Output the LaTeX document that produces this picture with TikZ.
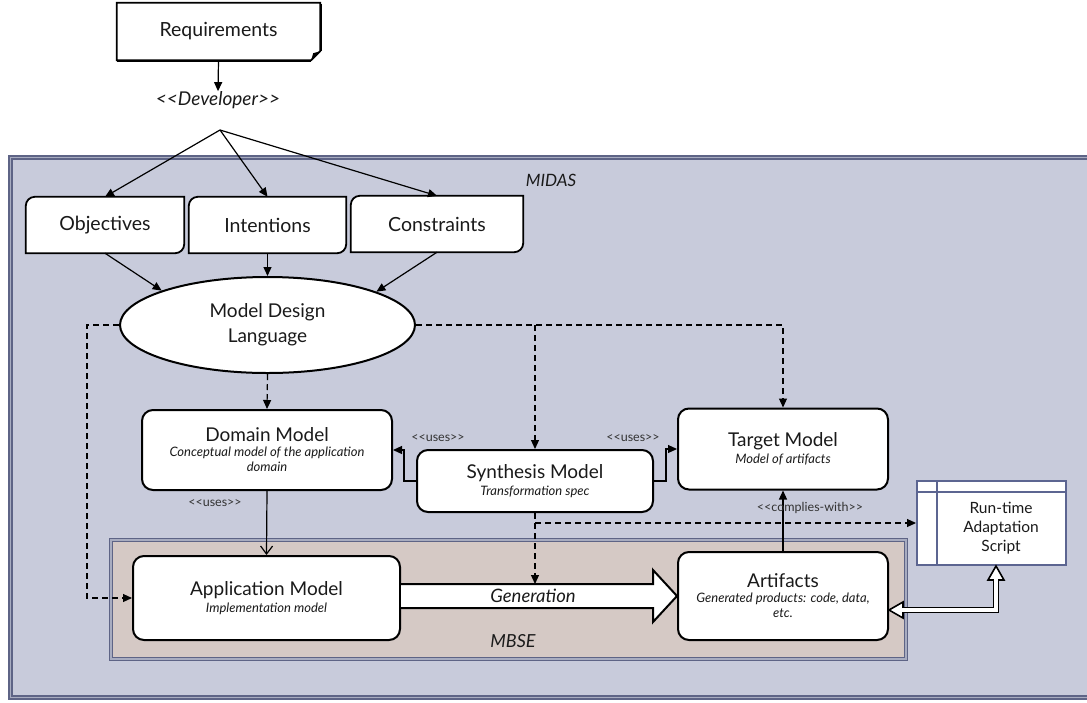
\documentclass[tikz,border=0pt]{standalone}
\usepackage{fontspec}
\setmainfont{Lato}
\usetikzlibrary{arrows.meta,shapes.geometric,calc}
\definecolor{midasfill}{HTML}{C8CBDB}
\definecolor{framedark}{HTML}{5E6486}
\definecolor{framelight}{HTML}{A8ACC0}
\definecolor{mbsefill}{HTML}{D5C9C5}
\definecolor{runcol}{HTML}{5C6591}
\definecolor{txt}{HTML}{1A1A1A}
\newcommand\fsz[2]{\fontsize{#1}{#2}\selectfont}
\newcommand\subf{\fsz{13}{16}\itshape}
\newcommand\dlt{<\kern0pt<}
\newcommand\dgt{>\kern0pt>}
\tikzset{
  box/.style={draw=black, line width=2pt, fill=white, rounded corners=11pt, inner sep=0pt, align=center, text=txt},
  hid/.style={draw=none, inner sep=0pt, align=center, text=txt},
  shp/.style={draw=black, line width=1.8pt, fill=white, line join=miter},
  arr/.style={line width=1.2pt, -{Triangle[length=9pt,width=8pt]}},
  dasharr/.style={arr, dash pattern=on 6pt off 4pt},
  openarr/.style={line width=1.2pt, -{Straight Barb[length=8pt,width=12pt]}},
  frame/.style={draw=framedark, double=framelight, double distance=1.8pt, line width=1.5pt},
  small/.style={font=\fsz{12.5}{14}, text=black!80},
  big/.style={font=\fsz{19.5}{23}},
}
\begin{document}
\begin{tikzpicture}[x=1pt,y=-1pt]
\useasboundingbox (0,0) rectangle (1087,702);
\clip (0,0) rectangle (1087,702);
% frames
\draw[frame, fill=midasfill] (10.5,157.5) rectangle (1110,697.5);
\node[hid, font=\fsz{17}{20}\itshape] (midas) at (551,180) {MIDAS};
\draw[frame, fill=mbsefill] (111,540) rectangle (906,659);
\node[hid, font=\fsz{18}{21}\itshape] (mbse) at (513,641) {MBSE};

% requirements
\path node[hid, minimum width=203pt, minimum height=57pt] (req) at (218.5,31.5) {};
\draw[shp] (req.north west) -- (req.north east) -- ([yshift=9pt]req.south east) -- ([xshift=-9pt]req.south east) -- (req.south west) -- cycle;
\draw[line width=1.5pt] ([xshift=1.2pt,yshift=-1pt]req.north east) -- ([xshift=1.2pt,yshift=9pt]req.south east);
\draw[line width=1.5pt] ([yshift=-1.2pt]req.south west) -- ([xshift=-9pt,yshift=-1.2pt]req.south east);
\fill ([xshift=-9pt]req.south east) -- ([xshift=-7pt,yshift=7pt]req.south east) -- ([yshift=9pt]req.south east) -- cycle;
\node[hid, big] (reqt) at (req.center) {Requirements};
\node[hid, font=\fsz{19}{22}\itshape] (dev) at (218,100) {\dlt Developer\dgt};
\draw[arr] (req.south) -- (dev.north);
\coordinate (split) at (220,130);

% objectives, intentions, constraints
\path node[hid, minimum width=158pt, minimum height=56pt] (obj) at (105,225) {};
\path node[hid, minimum width=157pt, minimum height=56pt] (int) at (267.5,225) {};
\path node[hid, minimum width=172pt, minimum height=56pt] (con) at (437,224) {};
\foreach \n in {obj,int,con}{
  \draw[shp] (\n.west) [rounded corners=9pt] -- (\n.north west) -- (\n.north) [sharp corners] -- (\n.north east) -- (\n.east) [rounded corners=9pt] -- (\n.south east) -- (\n.south) [sharp corners] -- (\n.south west) -- cycle;
}
\node[hid, big] (objt) at (obj.center) {Objectives};
\node[hid, big] (intt) at (int.center) {Intentions};
\node[hid, big] (cont) at (con.center) {Constraints};
\draw[arr] (split) -- (obj.north);
\draw[arr] (split) -- (int.north);
\draw[arr] (split) -- (con.north);

% model design language
\node[ellipse, draw=black, line width=2pt, fill=white, minimum width=295pt, minimum height=96pt, inner sep=0pt, align=center, font=\fsz{19}{25}, text=txt] (mdl) at (267.5,325) {Model Design\\Language};
\draw[arr] (obj.south) -- (mdl.162);
\draw[arr] (int.south) -- (mdl.north);
\draw[arr] (con.south) -- (mdl.17);

% models
\node[box, minimum width=250pt, minimum height=80pt] (dom) at (267,450)
  {\fsz{19}{22}Domain Model\\[3pt]\subf Conceptual model of the application\\[3pt]\subf domain};
\node[box, minimum width=236pt, minimum height=62pt] (syn) at (535,481)
  {\fsz{19}{22}Synthesis Model\\[3pt]\subf Transformation spec};
\node[box, minimum width=210pt, minimum height=81pt] (tgt) at (783,449)
  {\fsz{19}{22}Target Model\\[3pt]\subf Model of artifacts};
\node[box, minimum width=267pt, minimum height=84pt] (app) at (266.5,598)
  {\fsz{19}{22}Application Model\\[3pt]\subf Implementation model};
\node[box, minimum width=210pt, minimum height=88pt] (art) at (783,596)
  {\fsz{19}{22}Artifacts\\[3pt]\subf Generated products: code, data,\\[3pt]\subf etc.};

% run-time box
\node[draw=runcol, line width=2pt, fill=white, minimum width=149pt, minimum height=84pt, inner sep=0pt] (run) at (991.5,523) {};
\draw[runcol, line width=2pt] (run.west |- 0,492) -- (run.east |- 0,492);
\draw[runcol, line width=2pt] (937,0 |- run.north) -- (937,0 |- run.south);
\node[hid, font=\fsz{15.5}{19}] (runtxt) at (1001,528) {Run-time\\Adaptation\\Script};

% dashed design links
\draw[dasharr] (mdl.south) -- (dom.north);
\draw[dasharr] (mdl.west) -- ++(-32,0) |- (app.west);
\draw[dasharr] (mdl.east) -| (tgt.north);
\draw[dasharr] (mdl.east -| syn.north) -- (syn.north);

% uses links
\draw[arr] (syn.west) -- ++(-12,0) |- (dom.east);
\draw[arr] (syn.east) -- ++(12,0) |- (tgt.west);
\node[small] (u1) at (438,438) {\dlt uses\dgt};
\node[small] (u2) at (633,438) {\dlt uses\dgt};
\draw[openarr] (dom.south) -- (app.north);
\node[small] (u3) at (215,503) {\dlt uses\dgt};
\draw[arr] (art.north) -- (tgt.south);
\node[small] (u4) at (810,508) {\dlt complies-with\dgt};

% generation arrow
\draw[line width=2pt, fill=white, line join=miter] (app.east |- 0,584) -- (653,584) -- (653,570) -- (art.west) -- (653,622) -- (653,608) -- (app.east |- 0,608);
\node[hid, font=\fsz{18.5}{21}\itshape] (gen) at (533,596) {Generation};
\coordinate (gtop) at (535,584);
\draw[dasharr] (syn.south) -- (gtop);
\draw[dasharr] (syn.south |- run.west) -- (run.west);

% double arrow run-time <-> artifacts
\coordinate (dA) at ([xshift=4.5pt]run.south);
\coordinate (dB) at ([yshift=-14pt]art.east);
\draw[line width=6.4pt] ($(dA)+(0,14)$) |- ($(dB)+(14,0)$);
\draw[line width=1.6pt, fill=white, line join=miter] (dA) -- ($(dA)+(-8,14)$) -- ($(dA)+(8,14)$) -- cycle;
\draw[line width=1.6pt, fill=white, line join=miter] (dB) -- ($(dB)+(14,-8)$) -- ($(dB)+(14,8)$) -- cycle;
\draw[line width=3.2pt, white] ($(dA)+(0,12)$) |- ($(dB)+(12,0)$);
\end{tikzpicture}
\end{document}
